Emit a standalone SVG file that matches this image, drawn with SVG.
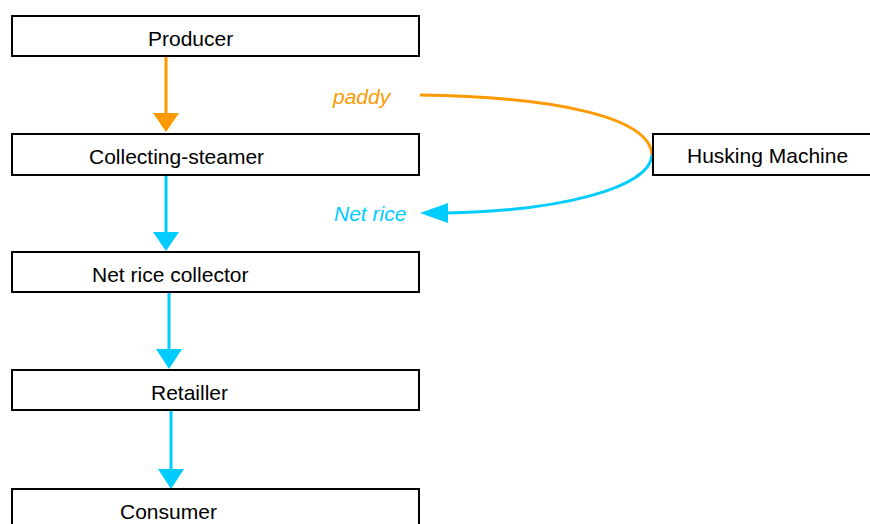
<svg xmlns="http://www.w3.org/2000/svg" width="870" height="524" viewBox="0 0 870 524">
<defs>
<style>
.box{fill:#fff;stroke:#000;stroke-width:2}
.lbl{font-family:"Liberation Sans",Arial,sans-serif;font-size:21px;fill:#000}
.it{font-family:"Liberation Sans",Arial,sans-serif;font-size:21px;font-style:italic}
.o{stroke:#FF9900;stroke-width:3;fill:none}
.c{stroke:#00CCFF;stroke-width:3;fill:none}
</style>
</defs>
<rect width="870" height="524" fill="#fff"/>
<g id="connectors">
<line class="o" x1="166" y1="57" x2="166" y2="114"/>
<polygon points="153,113 179,113 166,132" fill="#FF9900"/>
<line class="c" x1="166" y1="176" x2="166" y2="233"/>
<polygon points="153,232 179,232 166,251" fill="#00CCFF"/>
<line class="c" x1="169" y1="293" x2="169" y2="350"/>
<polygon points="156,349 182,349 169,369" fill="#00CCFF"/>
<line class="c" x1="171" y1="411" x2="171" y2="470"/>
<polygon points="158,469 184,469 171,489" fill="#00CCFF"/>
<path class="o" d="M420,95 C560,97 650,118 652,155"/>
<path class="c" d="M652,155 C650,188 560,211 446,213"/>
<polygon points="420,213 448,203 448,223" fill="#00CCFF"/>
<text class="it" x="333" y="104" fill="#FF9900">paddy</text>
<text class="it" x="334" y="221" fill="#00CCFF">Net rice</text>
</g>
<g id="producer"><rect class="box" x="12" y="16" width="407" height="40"/><text class="lbl" x="148" y="46">Producer</text></g>
<g id="collecting"><rect class="box" x="12" y="134" width="407" height="41"/><text class="lbl" x="89" y="164">Collecting-steamer</text></g>
<g id="netcollector"><rect class="box" x="12" y="252" width="407" height="40"/><text class="lbl" x="92" y="282">Net rice collector</text></g>
<g id="retailler"><rect class="box" x="12" y="370" width="407" height="40"/><text class="lbl" x="151" y="400">Retailler</text></g>
<g id="consumer"><rect class="box" x="12" y="489" width="407" height="40"/><text class="lbl" x="120" y="519">Consumer</text></g>
<g id="husking"><rect class="box" x="653" y="134" width="222" height="41"/><text class="lbl" x="687" y="163">Husking Machine</text></g>
</svg>
